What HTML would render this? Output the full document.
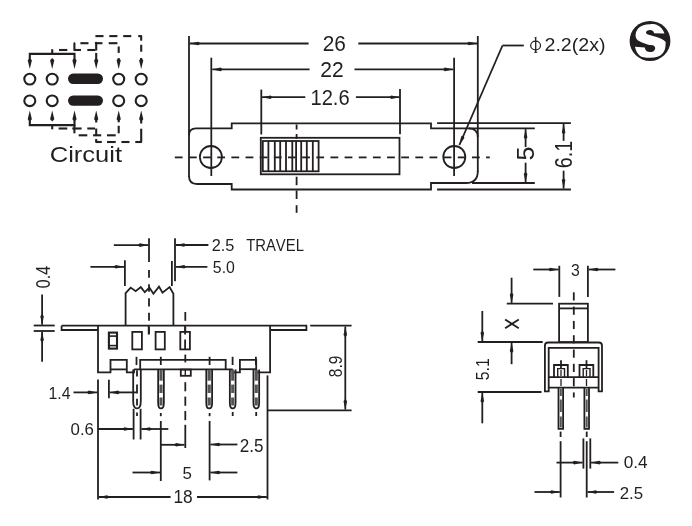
<!DOCTYPE html>
<html><head><meta charset="utf-8"><style>
html,body{margin:0;padding:0;background:#fff;}
svg{display:block;will-change:transform;}
</style></head><body>
<svg width="692" height="526" viewBox="0 0 692 526" stroke="#231f20" stroke-linecap="butt">
<rect x="0" y="0" width="692" height="526" fill="#fff" stroke="none"/>
<ellipse cx="29.8" cy="79.1" rx="5.5" ry="5.35" fill="none" stroke-width="2.1"/>
<ellipse cx="52.2" cy="79.1" rx="5.5" ry="5.35" fill="none" stroke-width="2.1"/>
<ellipse cx="118.7" cy="79.1" rx="5.5" ry="5.35" fill="none" stroke-width="2.1"/>
<ellipse cx="141.2" cy="79.1" rx="5.5" ry="5.35" fill="none" stroke-width="2.1"/>
<ellipse cx="29.8" cy="100.8" rx="5.5" ry="5.35" fill="none" stroke-width="2.1"/>
<ellipse cx="52.2" cy="100.8" rx="5.5" ry="5.35" fill="none" stroke-width="2.1"/>
<ellipse cx="118.7" cy="100.8" rx="5.5" ry="5.35" fill="none" stroke-width="2.1"/>
<ellipse cx="141.2" cy="100.8" rx="5.5" ry="5.35" fill="none" stroke-width="2.1"/>
<rect x="68" y="73.6" width="35" height="10.4" rx="5.2" fill="#231f20" stroke="none"/>
<rect x="68" y="95.39999999999999" width="35" height="10.4" rx="5.2" fill="#231f20" stroke="none"/>
<path d="M29.8,62 V53.9 H74.5 V62" stroke-width="2.1" fill="none" />
<polygon points="29.80,69.00 27.70,60.20 29.80,58.00 31.90,60.20" fill="#231f20" stroke="none"/>
<polygon points="74.50,69.00 72.40,60.20 74.50,58.00 76.60,60.20" fill="#231f20" stroke="none"/>
<line x1="52.2" y1="49.2" x2="52.2" y2="53.9" stroke-width="2.1" />
<line x1="52.2" y1="59.7" x2="52.2" y2="62" stroke-width="2.1" />
<polygon points="52.20,69.00 50.10,60.20 52.20,58.00 54.30,60.20" fill="#231f20" stroke="none"/>
<line x1="59" y1="50.0" x2="67.3" y2="50.0" stroke-width="2.1" />
<line x1="74.2" y1="50.0" x2="81" y2="50.0" stroke-width="2.1" />
<line x1="87.3" y1="50.0" x2="95.4" y2="50.0" stroke-width="2.1" />
<line x1="74.4" y1="42.7" x2="74.4" y2="50.8" stroke-width="2.1" />
<line x1="96.2" y1="41.9" x2="96.2" y2="50.5" stroke-width="2.1" />
<line x1="96.2" y1="52.9" x2="96.2" y2="62" stroke-width="2.1" />
<polygon points="96.20,69.00 94.10,60.20 96.20,58.00 98.30,60.20" fill="#231f20" stroke="none"/>
<line x1="74.2" y1="43.2" x2="75" y2="43.2" stroke-width="2.1" />
<line x1="80.4" y1="43.2" x2="88.5" y2="43.2" stroke-width="2.1" />
<line x1="94.9" y1="43.2" x2="102.4" y2="43.2" stroke-width="2.1" />
<line x1="108.7" y1="43.2" x2="117.4" y2="43.2" stroke-width="2.1" />
<line x1="118.7" y1="46.5" x2="118.7" y2="52.9" stroke-width="2.1" />
<line x1="118.7" y1="58.2" x2="118.7" y2="62" stroke-width="2.1" />
<polygon points="118.70,69.00 116.60,60.20 118.70,58.00 120.80,60.20" fill="#231f20" stroke="none"/>
<line x1="95.4" y1="36.1" x2="103.5" y2="36.1" stroke-width="2.1" />
<line x1="109.3" y1="36.1" x2="117.4" y2="36.1" stroke-width="2.1" />
<line x1="123.2" y1="36.1" x2="131.3" y2="36.1" stroke-width="2.1" />
<line x1="138.2" y1="36.1" x2="141.9" y2="36.1" stroke-width="2.1" />
<line x1="141.2" y1="36.1" x2="141.2" y2="40.7" stroke-width="2.1" />
<line x1="141.2" y1="44.8" x2="141.2" y2="51.7" stroke-width="2.1" />
<line x1="141.2" y1="58" x2="141.2" y2="62" stroke-width="2.1" />
<polygon points="141.20,69.00 139.10,60.20 141.20,58.00 143.30,60.20" fill="#231f20" stroke="none"/>
<path d="M29.8,118 V125.1 H74.5 V118" stroke-width="2.1" fill="none" />
<polygon points="29.80,110.50 31.90,119.30 29.80,121.50 27.70,119.30" fill="#231f20" stroke="none"/>
<polygon points="74.50,110.50 76.60,119.30 74.50,121.50 72.40,119.30" fill="#231f20" stroke="none"/>
<line x1="52.2" y1="125.1" x2="52.2" y2="129.3" stroke-width="2.1" />
<line x1="52.2" y1="117" x2="52.2" y2="119.3" stroke-width="2.1" />
<polygon points="52.20,110.50 54.30,119.30 52.20,121.50 50.10,119.30" fill="#231f20" stroke="none"/>
<line x1="58.6" y1="128.5" x2="67.3" y2="128.5" stroke-width="2.1" />
<line x1="72.3" y1="128.5" x2="81.6" y2="128.5" stroke-width="2.1" />
<line x1="87.3" y1="128.5" x2="95" y2="128.5" stroke-width="2.1" />
<line x1="74.4" y1="125.2" x2="74.4" y2="133.3" stroke-width="2.1" />
<line x1="96.2" y1="128.5" x2="96.2" y2="135.3" stroke-width="2.1" />
<line x1="96.2" y1="118" x2="96.2" y2="122.5" stroke-width="2.1" />
<polygon points="96.20,110.50 98.30,119.30 96.20,121.50 94.10,119.30" fill="#231f20" stroke="none"/>
<line x1="78.7" y1="135.3" x2="87.3" y2="135.3" stroke-width="2.1" />
<line x1="93.1" y1="135.3" x2="101.2" y2="135.3" stroke-width="2.1" />
<line x1="107" y1="135.3" x2="115.7" y2="135.3" stroke-width="2.1" />
<line x1="118.7" y1="125.8" x2="118.7" y2="133.3" stroke-width="2.1" />
<line x1="118.7" y1="118" x2="118.7" y2="122.3" stroke-width="2.1" />
<polygon points="118.70,110.50 120.80,119.30 118.70,121.50 116.60,119.30" fill="#231f20" stroke="none"/>
<line x1="95.4" y1="142.0" x2="101.8" y2="142.0" stroke-width="2.1" />
<line x1="107" y1="142.0" x2="115.7" y2="142.0" stroke-width="2.1" />
<line x1="121.4" y1="142.0" x2="129.5" y2="142.0" stroke-width="2.1" />
<line x1="135.3" y1="142.0" x2="141.9" y2="142.0" stroke-width="2.1" />
<line x1="96.2" y1="139" x2="96.2" y2="142" stroke-width="2.1" />
<line x1="141.2" y1="128.7" x2="141.2" y2="142" stroke-width="2.1" />
<line x1="141.2" y1="118" x2="141.2" y2="123.5" stroke-width="2.1" />
<polygon points="141.20,110.50 143.30,119.30 141.20,121.50 139.10,119.30" fill="#231f20" stroke="none"/>
<text style="font-kerning:none" font-family="Liberation Sans" font-size="20" fill="#231f20" stroke="none" transform="matrix(1.2773,0,0,1.1166,49.703,161.982)" >Circuit</text>
<line x1="308.6" y1="43.5" x2="189.9" y2="43.5" stroke-width="1.8" />
<polygon points="189.90,43.50 198.30,41.70 200.40,43.50 198.30,45.30" fill="#231f20" stroke="none"/>
<line x1="358.3" y1="43.5" x2="477.2" y2="43.5" stroke-width="1.8" />
<polygon points="477.20,43.50 468.80,45.30 466.70,43.50 468.80,41.70" fill="#231f20" stroke="none"/>
<text style="font-kerning:none" font-family="Liberation Sans" font-size="20" fill="#231f20" stroke="none" transform="matrix(1.0412,0,0,1.1017,322.753,51.385)" >26</text>
<line x1="309.6" y1="69.4" x2="212.3" y2="69.4" stroke-width="1.8" />
<polygon points="212.30,69.40 220.70,67.60 222.80,69.40 220.70,71.20" fill="#231f20" stroke="none"/>
<line x1="354.5" y1="69.4" x2="453.3" y2="69.4" stroke-width="1.8" />
<polygon points="453.30,69.40 444.90,71.20 442.80,69.40 444.90,67.60" fill="#231f20" stroke="none"/>
<text style="font-kerning:none" font-family="Liberation Sans" font-size="20" fill="#231f20" stroke="none" transform="matrix(1.0527,0,0,1.0884,320.241,77.400)" >22</text>
<line x1="305.3" y1="97.2" x2="262.1" y2="97.2" stroke-width="1.8" />
<polygon points="262.10,97.20 270.50,95.40 272.60,97.20 270.50,99.00" fill="#231f20" stroke="none"/>
<line x1="355.9" y1="97.2" x2="399.7" y2="97.2" stroke-width="1.8" />
<polygon points="399.70,97.20 391.30,99.00 389.20,97.20 391.30,95.40" fill="#231f20" stroke="none"/>
<text style="font-kerning:none" font-family="Liberation Sans" font-size="20" fill="#231f20" stroke="none" transform="matrix(1.0076,0,0,1.1229,310.465,105.081)" >12.6</text>
<line x1="189" y1="36" x2="189" y2="177" stroke-width="1.8" />
<line x1="211.3" y1="57.7" x2="211.3" y2="176" stroke-width="1.8" />
<line x1="261.3" y1="89.6" x2="261.3" y2="134.5" stroke-width="1.8" />
<line x1="400.0" y1="89.1" x2="400.0" y2="134.3" stroke-width="1.8" />
<line x1="454.1" y1="57.7" x2="454.1" y2="176" stroke-width="1.8" />
<line x1="477.8" y1="36" x2="477.8" y2="172" stroke-width="1.8" />
<path d="M189,135.4 Q189,128.4 196,128.4 H231.7 V123.3 H431 V128.3 H534.8" stroke-width="1.8" fill="none" />
<path d="M468.6,128.3 Q477.8,128.3 477.8,137" stroke-width="1.8" fill="none" />
<path d="M189,176 Q189,184 197,184 H231.7 V189.5 H431 V183 H466 Q477.8,183 477.8,171" stroke-width="1.8" fill="none" />
<line x1="472" y1="183" x2="534.8" y2="183" stroke-width="1.8" />
<line x1="437.1" y1="123.2" x2="570.9" y2="123.2" stroke-width="1.8" />
<line x1="437.1" y1="189.5" x2="570.9" y2="189.5" stroke-width="1.8" />
<circle cx="210.9" cy="157.0" r="11" fill="none" stroke-width="1.8"/>
<circle cx="454.3" cy="157.0" r="11" fill="none" stroke-width="1.8"/>
<rect x="260.8" y="137.8" width="138.7" height="36.5" fill="none" stroke-width="1.8"/>
<rect x="262.8" y="141" width="55.8" height="30.3" fill="none" stroke-width="1.8"/>
<line x1="268.4" y1="141" x2="268.4" y2="171.3" stroke-width="1.8" />
<line x1="274.8" y1="141" x2="274.8" y2="171.3" stroke-width="1.8" />
<line x1="280.2" y1="141" x2="280.2" y2="171.3" stroke-width="1.8" />
<line x1="286.0" y1="141" x2="286.0" y2="171.3" stroke-width="1.8" />
<line x1="292.3" y1="141" x2="292.3" y2="171.3" stroke-width="1.8" />
<line x1="296.1" y1="141" x2="296.1" y2="171.3" stroke-width="1.8" />
<line x1="301.2" y1="141" x2="301.2" y2="171.3" stroke-width="1.8" />
<line x1="306.8" y1="141" x2="306.8" y2="171.3" stroke-width="1.8" />
<line x1="312.8" y1="141" x2="312.8" y2="171.3" stroke-width="1.8" />
<line x1="174.8" y1="157.4" x2="182.60000000000002" y2="157.4" stroke-width="1.8" />
<line x1="188.95000000000002" y1="157.4" x2="196.75000000000003" y2="157.4" stroke-width="1.8" />
<line x1="203.10000000000002" y1="157.4" x2="210.90000000000003" y2="157.4" stroke-width="1.8" />
<line x1="217.25000000000003" y1="157.4" x2="225.05000000000004" y2="157.4" stroke-width="1.8" />
<line x1="231.40000000000003" y1="157.4" x2="239.20000000000005" y2="157.4" stroke-width="1.8" />
<line x1="245.55000000000004" y1="157.4" x2="253.35000000000005" y2="157.4" stroke-width="1.8" />
<line x1="259.70000000000005" y1="157.4" x2="267.50000000000006" y2="157.4" stroke-width="1.8" />
<line x1="273.85" y1="157.4" x2="281.65000000000003" y2="157.4" stroke-width="1.8" />
<line x1="288.0" y1="157.4" x2="295.8" y2="157.4" stroke-width="1.8" />
<line x1="302.15" y1="157.4" x2="309.95" y2="157.4" stroke-width="1.8" />
<line x1="316.29999999999995" y1="157.4" x2="324.09999999999997" y2="157.4" stroke-width="1.8" />
<line x1="330.44999999999993" y1="157.4" x2="338.24999999999994" y2="157.4" stroke-width="1.8" />
<line x1="344.5999999999999" y1="157.4" x2="352.3999999999999" y2="157.4" stroke-width="1.8" />
<line x1="358.7499999999999" y1="157.4" x2="366.5499999999999" y2="157.4" stroke-width="1.8" />
<line x1="372.89999999999986" y1="157.4" x2="380.6999999999999" y2="157.4" stroke-width="1.8" />
<line x1="387.04999999999984" y1="157.4" x2="394.84999999999985" y2="157.4" stroke-width="1.8" />
<line x1="401.1999999999998" y1="157.4" x2="408.99999999999983" y2="157.4" stroke-width="1.8" />
<line x1="415.3499999999998" y1="157.4" x2="423.1499999999998" y2="157.4" stroke-width="1.8" />
<line x1="429.4999999999998" y1="157.4" x2="437.2999999999998" y2="157.4" stroke-width="1.8" />
<line x1="443.64999999999975" y1="157.4" x2="451.44999999999976" y2="157.4" stroke-width="1.8" />
<line x1="457.7999999999997" y1="157.4" x2="465.59999999999974" y2="157.4" stroke-width="1.8" />
<line x1="471.9499999999997" y1="157.4" x2="479.7499999999997" y2="157.4" stroke-width="1.8" />
<line x1="486.0999999999997" y1="157.4" x2="489.8" y2="157.4" stroke-width="1.8" />
<line x1="296.6" y1="124.5" x2="296.6" y2="129.5" stroke-width="1.8" />
<line x1="296.6" y1="134" x2="296.6" y2="139" stroke-width="1.8" />
<line x1="296.6" y1="176.7" x2="296.6" y2="185.2" stroke-width="1.8" />
<line x1="296.6" y1="190.4" x2="296.6" y2="199" stroke-width="1.8" />
<line x1="296.6" y1="205.2" x2="296.6" y2="212.8" stroke-width="1.8" />
<line x1="502.5" y1="45.5" x2="459.4" y2="145.0" stroke-width="1.8" />
<polygon points="459.40,145.00 461.09,136.58 463.57,135.37 464.39,138.01" fill="#231f20" stroke="none"/>
<line x1="502.5" y1="45.5" x2="523.8" y2="45.5" stroke-width="1.8" />
<ellipse cx="535.6" cy="45.5" rx="4.9" ry="4.4" fill="none" stroke-width="1.25"/>
<line x1="535.7" y1="37.4" x2="535.7" y2="52.4" stroke-width="1.3" />
<line x1="534.6" y1="38.0" x2="536.4" y2="37.3" stroke-width="1.0" />
<line x1="534.2" y1="52.3" x2="537.3" y2="52.3" stroke-width="1.0" />
<text style="font-kerning:none" font-family="Liberation Sans" font-size="20" fill="#231f20" stroke="none" transform="matrix(0.9817,0,0,0.9285,544.513,51.456)" >2.2(2x)</text>
<line x1="525.6" y1="147" x2="525.6" y2="129.1" stroke-width="1.8" />
<polygon points="525.60,129.10 527.40,137.50 525.60,139.60 523.80,137.50" fill="#231f20" stroke="none"/>
<line x1="525.6" y1="162.7" x2="525.6" y2="182.3" stroke-width="1.8" />
<polygon points="525.60,182.30 523.80,173.90 525.60,171.80 527.40,173.90" fill="#231f20" stroke="none"/>
<text style="font-kerning:none" font-family="Liberation Sans" font-size="20" fill="#231f20" stroke="none" transform="matrix(0,-1.2550,1.2039,0,534.165,160.605)" >5</text>
<line x1="563.6" y1="140.8" x2="563.6" y2="124.0" stroke-width="1.8" />
<polygon points="563.60,124.00 565.40,132.40 563.60,134.50 561.80,132.40" fill="#231f20" stroke="none"/>
<line x1="563.6" y1="170.7" x2="563.6" y2="188.5" stroke-width="1.8" />
<polygon points="563.60,188.50 561.80,180.10 563.60,178.00 565.40,180.10" fill="#231f20" stroke="none"/>
<text style="font-kerning:none" font-family="Liberation Sans" font-size="20" fill="#231f20" stroke="none" transform="matrix(0,-0.9880,1.1511,0,571.775,168.303)" >6.1</text>
<ellipse cx="650" cy="40.9" rx="20.4" ry="20" fill="#231f20" stroke="none"/>
<path d="M664.5,33.6 C663.2,29.6 660.6,26.2 656.6,24.7 C655,23.8 652,24.1 650,24.2 C645,24.3 641,25.5 638.5,28 C636.2,30.5 635.4,33.5 635.6,36 C635.9,38.5 637,40 639,41 C642,42.6 646,44 649.5,45 C653.5,44.4 655.4,46.5 655.2,48.4 C655,50.8 652.7,52.1 650,52.1 C647.2,52.1 645,50.2 644.8,47.4 L634.9,46.8 C635.8,50.6 637.4,53.8 639.8,55.7 C641.5,57.2 645,57.8 650,57.8 C656,57.8 660,56.5 662.5,53.5 C664.8,51 665.6,48 665.6,44 C665.5,43 665.8,42.5 665.9,42.3 C664,40 660,38 655.7,36.8 C653,36 651,35.3 649.5,35 C647,34.8 646,33.8 646,32.6 C646,31 647.8,30.1 650,30.1 C652.5,30.1 654,31.5 654,33.2 Z" fill="#fff" stroke="none"/>
<line x1="149.0" y1="238.3" x2="149.0" y2="262" stroke-width="1.8" />
<line x1="149.0" y1="269.9" x2="149.0" y2="277.7" stroke-width="1.8" />
<line x1="149.0" y1="284.2" x2="149.0" y2="291.8" stroke-width="1.8" />
<line x1="149.0" y1="298.3" x2="149.0" y2="306.4" stroke-width="1.8" />
<line x1="149.0" y1="312.8" x2="149.0" y2="320.8" stroke-width="1.8" />
<line x1="149.0" y1="326.9" x2="149.0" y2="334" stroke-width="1.8" />
<line x1="113.8" y1="245.1" x2="148.2" y2="245.1" stroke-width="1.8" />
<polygon points="148.20,245.10 139.80,246.90 137.70,245.10 139.80,243.30" fill="#231f20" stroke="none"/>
<line x1="208.4" y1="245.0" x2="175.7" y2="245.0" stroke-width="1.8" />
<polygon points="175.70,245.00 184.10,243.20 186.20,245.00 184.10,246.80" fill="#231f20" stroke="none"/>
<line x1="175" y1="238.3" x2="175" y2="281.2" stroke-width="1.8" />
<text style="font-kerning:none" font-family="Liberation Sans" font-size="20" fill="#231f20" stroke="none" transform="matrix(0.8167,0,0,0.8121,211.678,251.041)" >2.5</text>
<text style="font-kerning:none" font-family="Liberation Sans" font-size="20" fill="#231f20" stroke="none" transform="matrix(0.7433,0,0,0.8358,246.166,251.200)" >TRAVEL</text>
<line x1="90.4" y1="266.8" x2="124.1" y2="266.8" stroke-width="1.8" />
<polygon points="124.10,266.80 115.70,268.60 113.60,266.80 115.70,265.00" fill="#231f20" stroke="none"/>
<line x1="207.4" y1="266.8" x2="175.8" y2="266.8" stroke-width="1.8" />
<polygon points="175.80,266.80 184.20,265.00 186.30,266.80 184.20,268.60" fill="#231f20" stroke="none"/>
<line x1="124.9" y1="260.3" x2="124.9" y2="286.1" stroke-width="1.8" />
<line x1="171.9" y1="260.9" x2="171.9" y2="286.1" stroke-width="1.8" />
<text style="font-kerning:none" font-family="Liberation Sans" font-size="20" fill="#231f20" stroke="none" transform="matrix(0.7933,0,0,0.7839,212.865,272.947)" >5.0</text>
<path d="M125.6,325.7 L125.6,293.2 L130.7,287.6 L135.7,291.2 L140.8,287.1 L144.8,292.2 L149.4,287.6 L153.4,293.7 L159,286.6 L162.5,292.7 L169.6,287.1 L173.4,293.7 L173.4,325.7" stroke-width="1.8" fill="none" />
<path d="M61.6,325.7 H306.4 V330 H270 M98,330 H61.6 Z" stroke-width="1.8" fill="none" />
<path d="M61.6,325.7 V330 H98" stroke-width="1.8" fill="none" />
<path d="M98,325.7 V372.4 H110.5 V359.8 H126.8 V372.4 H134 V369.4" stroke-width="1.8" fill="none" />
<line x1="110.5" y1="369.4" x2="126.8" y2="369.4" stroke-width="1.8" />
<line x1="134" y1="369.4" x2="232.7" y2="369.4" stroke-width="1.8" />
<path d="M140.2,369.4 V359.9 H225.7 V369.4" stroke-width="1.8" fill="none" />
<path d="M232.7,369.4 V372.3 H239.9 V359.9 H256.2 V372.3 H270.1 V325.7" stroke-width="1.8" fill="none" />
<line x1="239.9" y1="369.2" x2="256.2" y2="369.2" stroke-width="1.8" />
<rect x="108.9" y="332.6" width="8.1" height="16" fill="none" stroke-width="2.1"/>
<line x1="108.9" y1="336.1" x2="117" y2="336.1" stroke-width="1.6" />
<line x1="108.9" y1="345.6" x2="117" y2="345.6" stroke-width="1.6" />
<rect x="132.3" y="331.9" width="9.6" height="17.5" fill="none" stroke-width="1.8"/>
<rect x="155.6" y="331.9" width="9.2" height="17.5" fill="none" stroke-width="1.8"/>
<rect x="180.3" y="331.9" width="9.6" height="17.5" fill="none" stroke-width="1.8"/>
<line x1="185.1" y1="325.7" x2="185.1" y2="334.5" stroke-width="1.8" />
<line x1="185.1" y1="339.6" x2="185.1" y2="349.4" stroke-width="1.8" />
<line x1="148.7" y1="325.7" x2="148.7" y2="334.6" stroke-width="1.8" />
<line x1="136.5" y1="356.8" x2="136.5" y2="365" stroke-width="1.8" />
<line x1="160.8" y1="356.8" x2="160.8" y2="365" stroke-width="1.8" />
<line x1="209.6" y1="356.8" x2="209.6" y2="365" stroke-width="1.8" />
<line x1="232.6" y1="356.8" x2="232.6" y2="365" stroke-width="1.8" />
<line x1="255.9" y1="356.8" x2="255.9" y2="365" stroke-width="1.8" />
<line x1="185.3" y1="312" x2="185.3" y2="320.8" stroke-width="1.8" />
<line x1="185.3" y1="326.9" x2="185.3" y2="332" stroke-width="1.8" />
<line x1="185.3" y1="354.6" x2="185.3" y2="362.4" stroke-width="1.8" />
<line x1="185.3" y1="382.2" x2="185.3" y2="391.3" stroke-width="1.8" />
<line x1="185.3" y1="396.6" x2="185.3" y2="405.8" stroke-width="1.8" />
<line x1="185.3" y1="411" x2="185.3" y2="420.2" stroke-width="1.8" />
<line x1="185.3" y1="424.8" x2="185.3" y2="448" stroke-width="1.8" />
<rect x="180.8" y="369.6" width="10" height="6.2" fill="none" stroke-width="1.8"/>
<line x1="137.0" y1="370.2" x2="137.0" y2="376.4" stroke-width="1.8" />
<line x1="137.0" y1="384.5" x2="137.0" y2="393.5" stroke-width="1.8" />
<line x1="137.0" y1="398.7" x2="137.0" y2="405.5" stroke-width="1.8" />
<path d="M133.20,369.4 V401.18 C133.20,406.12 135.10,408.40 137.00,408.40 C138.90,408.40 140.80,406.12 140.80,401.18 V369.4" stroke-width="1.8" fill="none" />
<line x1="161.0" y1="369.8" x2="161.0" y2="380.7" stroke="#555" stroke-width="3.10"/>
<line x1="161.0" y1="384.6" x2="161.0" y2="393" stroke="#555" stroke-width="3.10"/>
<line x1="161.0" y1="397.5" x2="161.0" y2="405.5" stroke="#555" stroke-width="3.10"/>
<path d="M158.15,369.4 V402.98 C158.15,406.69 159.57,408.40 161.00,408.40 C162.43,408.40 163.85,406.69 163.85,402.98 V369.4" stroke-width="1.8" fill="none" />
<line x1="209.2" y1="369.8" x2="209.2" y2="380.7" stroke="#555" stroke-width="3.20"/>
<line x1="209.2" y1="384.6" x2="209.2" y2="393" stroke="#555" stroke-width="3.20"/>
<line x1="209.2" y1="397.5" x2="209.2" y2="405.5" stroke="#555" stroke-width="3.20"/>
<path d="M206.30,369.4 V402.89 C206.30,406.66 207.75,408.40 209.20,408.40 C210.65,408.40 212.10,406.66 212.10,402.89 V369.4" stroke-width="1.8" fill="none" />
<line x1="232.7" y1="369.8" x2="232.7" y2="380.7" stroke="#555" stroke-width="3.10"/>
<line x1="232.7" y1="384.6" x2="232.7" y2="393" stroke="#555" stroke-width="3.10"/>
<line x1="232.7" y1="397.5" x2="232.7" y2="405.5" stroke="#555" stroke-width="3.10"/>
<path d="M229.85,369.4 V402.98 C229.85,406.69 231.27,408.40 232.70,408.40 C234.12,408.40 235.55,406.69 235.55,402.98 V369.4" stroke-width="1.8" fill="none" />
<line x1="256.3" y1="369.8" x2="256.3" y2="380.7" stroke="#555" stroke-width="3.10"/>
<line x1="256.3" y1="384.6" x2="256.3" y2="393" stroke="#555" stroke-width="3.10"/>
<line x1="256.3" y1="397.5" x2="256.3" y2="405.5" stroke="#555" stroke-width="3.10"/>
<path d="M253.45,369.4 V402.98 C253.45,406.69 254.88,408.40 256.30,408.40 C257.73,408.40 259.15,406.69 259.15,402.98 V369.4" stroke-width="1.8" fill="none" />
<line x1="185.3" y1="369.6" x2="185.3" y2="375.8" stroke-width="1.4" />
<line x1="232.7" y1="412" x2="232.7" y2="416" stroke-width="1.8" />
<line x1="256.2" y1="412" x2="256.2" y2="416" stroke-width="1.8" />
<line x1="98" y1="379.5" x2="98" y2="499.5" stroke-width="1.8" />
<line x1="108.9" y1="379.7" x2="108.9" y2="398.2" stroke-width="1.8" />
<line x1="73.5" y1="392.4" x2="97.2" y2="392.4" stroke-width="1.8" />
<polygon points="97.20,392.40 88.80,394.20 86.70,392.40 88.80,390.60" fill="#231f20" stroke="none"/>
<line x1="136.5" y1="392.4" x2="109.7" y2="392.4" stroke-width="1.8" />
<polygon points="109.70,392.40 118.10,390.60 120.20,392.40 118.10,394.20" fill="#231f20" stroke="none"/>
<text style="font-kerning:none" font-family="Liberation Sans" font-size="20" fill="#231f20" stroke="none" transform="matrix(0.7901,0,0,0.7922,48.496,398.900)" >1.4</text>
<line x1="133.6" y1="408.8" x2="133.6" y2="439.5" stroke-width="1.8" />
<line x1="140.6" y1="408.8" x2="140.6" y2="439.5" stroke-width="1.8" />
<line x1="137.0" y1="412.6" x2="137.0" y2="416" stroke-width="1.8" />
<line x1="98" y1="429" x2="132.8" y2="429" stroke-width="1.8" />
<polygon points="132.80,429.00 124.40,430.80 122.30,429.00 124.40,427.20" fill="#231f20" stroke="none"/>
<line x1="168.3" y1="429" x2="141.4" y2="429" stroke-width="1.8" />
<polygon points="141.40,429.00 149.80,427.20 151.90,429.00 149.80,430.80" fill="#231f20" stroke="none"/>
<text style="font-kerning:none" font-family="Liberation Sans" font-size="20" fill="#231f20" stroke="none" transform="matrix(0.8415,0,0,0.7839,70.543,434.547)" >0.6</text>
<line x1="160.8" y1="413" x2="160.8" y2="416.2" stroke-width="1.8" />
<line x1="160.8" y1="421" x2="160.8" y2="481" stroke-width="1.8" />
<line x1="209.6" y1="413" x2="209.6" y2="416.2" stroke-width="1.8" />
<line x1="209.6" y1="421" x2="209.6" y2="480.4" stroke-width="1.8" />
<line x1="160.8" y1="444.8" x2="184.5" y2="444.8" stroke-width="1.8" />
<polygon points="184.50,444.80 176.10,446.60 174.00,444.80 176.10,443.00" fill="#231f20" stroke="none"/>
<line x1="237.4" y1="444.5" x2="210.4" y2="444.5" stroke-width="1.8" />
<polygon points="210.40,444.50 218.80,442.70 220.90,444.50 218.80,446.30" fill="#231f20" stroke="none"/>
<text style="font-kerning:none" font-family="Liberation Sans" font-size="20" fill="#231f20" stroke="none" transform="matrix(0.8553,0,0,0.9039,239.740,451.623)" >2.5</text>
<line x1="132.5" y1="472.5" x2="160.0" y2="472.5" stroke-width="1.8" />
<polygon points="160.00,472.50 151.60,474.30 149.50,472.50 151.60,470.70" fill="#231f20" stroke="none"/>
<line x1="237.4" y1="472.5" x2="210.4" y2="472.5" stroke-width="1.8" />
<polygon points="210.40,472.50 218.80,470.70 220.90,472.50 218.80,474.30" fill="#231f20" stroke="none"/>
<text style="font-kerning:none" font-family="Liberation Sans" font-size="20" fill="#231f20" stroke="none" transform="matrix(0.8437,0,0,0.8456,182.624,478.635)" >5</text>
<line x1="267.5" y1="375.4" x2="267.5" y2="499.5" stroke-width="1.8" />
<line x1="170.6" y1="497" x2="98.8" y2="497" stroke-width="1.8" />
<polygon points="98.80,497.00 107.20,495.20 109.30,497.00 107.20,498.80" fill="#231f20" stroke="none"/>
<line x1="197" y1="497" x2="266.8" y2="497" stroke-width="1.8" />
<polygon points="266.80,497.00 258.40,498.80 256.30,497.00 258.40,495.20" fill="#231f20" stroke="none"/>
<text style="font-kerning:none" font-family="Liberation Sans" font-size="20" fill="#231f20" stroke="none" transform="matrix(0.8663,0,0,0.8969,173.480,503.125)" >18</text>
<line x1="310.2" y1="325.7" x2="351.6" y2="325.7" stroke-width="1.8" />
<line x1="267.3" y1="410.4" x2="351.6" y2="410.4" stroke-width="1.8" />
<line x1="345.3" y1="368" x2="345.3" y2="326.5" stroke-width="1.8" />
<polygon points="345.30,326.50 347.10,334.90 345.30,337.00 343.50,334.90" fill="#231f20" stroke="none"/>
<line x1="345.3" y1="368" x2="345.3" y2="409.6" stroke-width="1.8" />
<polygon points="345.30,409.60 343.50,401.20 345.30,399.10 347.10,401.20" fill="#231f20" stroke="none"/>
<text style="font-kerning:none" font-family="Liberation Sans" font-size="20" fill="#231f20" stroke="none" transform="matrix(0,-0.7735,0.9463,0,341.815,377.172)" >8.9</text>
<line x1="33.7" y1="325.5" x2="54.7" y2="325.5" stroke-width="1.8" />
<line x1="33.7" y1="331" x2="54.7" y2="331" stroke-width="1.8" />
<line x1="42.1" y1="294.5" x2="42.1" y2="324.7" stroke-width="1.8" />
<polygon points="42.10,324.70 40.30,316.30 42.10,314.20 43.90,316.30" fill="#231f20" stroke="none"/>
<line x1="42.1" y1="361.8" x2="42.1" y2="331.8" stroke-width="1.8" />
<polygon points="42.10,331.80 43.90,340.20 42.10,342.30 40.30,340.20" fill="#231f20" stroke="none"/>
<text style="font-kerning:none" font-family="Liberation Sans" font-size="20" fill="#231f20" stroke="none" transform="matrix(0,-0.8020,0.9675,0,49.511,288.227)" >0.4</text>
<line x1="559.3" y1="265.8" x2="559.3" y2="296.9" stroke-width="1.8" />
<line x1="587.9" y1="265.8" x2="587.9" y2="296.9" stroke-width="1.8" />
<line x1="533.3" y1="269.5" x2="558.5" y2="269.5" stroke-width="1.8" />
<polygon points="558.50,269.50 550.10,271.30 548.00,269.50 550.10,267.70" fill="#231f20" stroke="none"/>
<line x1="615.4" y1="269.5" x2="588.7" y2="269.5" stroke-width="1.8" />
<polygon points="588.70,269.50 597.10,267.70 599.20,269.50 597.10,271.30" fill="#231f20" stroke="none"/>
<text style="font-kerning:none" font-family="Liberation Sans" font-size="20" fill="#231f20" stroke="none" transform="matrix(0.7909,0,0,0.8686,571.098,275.830)" >3</text>
<line x1="573.8" y1="292.3" x2="573.8" y2="300.5" stroke-width="1.8" />
<line x1="573.8" y1="306.6" x2="573.8" y2="314.8" stroke-width="1.8" />
<line x1="573.8" y1="320.90000000000003" x2="573.8" y2="329.1" stroke-width="1.8" />
<line x1="573.8" y1="335.20000000000005" x2="573.8" y2="343.40000000000003" stroke-width="1.8" />
<line x1="573.8" y1="349.5" x2="573.8" y2="357.7" stroke-width="1.8" />
<line x1="573.8" y1="363.8" x2="573.8" y2="372.0" stroke-width="1.8" />
<line x1="573.8" y1="378.1" x2="573.8" y2="386.3" stroke-width="1.8" />
<line x1="573.8" y1="392.40000000000003" x2="573.8" y2="397.5" stroke-width="1.8" />
<rect x="559.1" y="303.7" width="28.8" height="38.4" fill="none" stroke-width="1.8"/>
<line x1="559.1" y1="308.4" x2="587.9" y2="308.4" stroke-width="1.8" />
<line x1="506.8" y1="303.7" x2="553" y2="303.7" stroke-width="1.8" />
<line x1="511.6" y1="277.7" x2="511.6" y2="302.9" stroke-width="1.8" />
<polygon points="511.60,302.90 509.80,294.50 511.60,292.40 513.40,294.50" fill="#231f20" stroke="none"/>
<line x1="477.7" y1="342" x2="542.7" y2="342" stroke-width="1.8" />
<line x1="511.6" y1="364.2" x2="511.6" y2="342.8" stroke-width="1.8" />
<polygon points="511.60,342.80 513.40,351.20 511.60,353.30 509.80,351.20" fill="#231f20" stroke="none"/>
<line x1="505.1" y1="319.6" x2="518.8" y2="328.2" stroke-width="1.8" />
<line x1="505.1" y1="328.2" x2="518.8" y2="319.6" stroke-width="1.8" />
<line x1="482.3" y1="311" x2="482.3" y2="341.2" stroke-width="1.8" />
<polygon points="482.30,341.20 480.50,332.80 482.30,330.70 484.10,332.80" fill="#231f20" stroke="none"/>
<line x1="477.7" y1="392" x2="541.5" y2="392" stroke-width="1.8" />
<line x1="482.3" y1="423.3" x2="482.3" y2="392.8" stroke-width="1.8" />
<polygon points="482.30,392.80 484.10,401.20 482.30,403.30 480.50,401.20" fill="#231f20" stroke="none"/>
<text style="font-kerning:none" font-family="Liberation Sans" font-size="20" fill="#231f20" stroke="none" transform="matrix(0,-0.7877,0.9459,0,489.015,380.231)" >5.1</text>
<path d="M544.9,391.4 V345.7 Q544.9,342.5 548.1,342.5 H598.8 Q602,342.5 602,345.7 V391.4 H598.6 V347.8 H548.7 V391.4 Z" stroke-width="1.8" fill="none" />
<line x1="548.7" y1="377.2" x2="598.6" y2="377.2" stroke-width="1.8" />
<line x1="548.7" y1="387.6" x2="598.6" y2="387.6" stroke-width="1.8" />
<path d="M554.0,377.2 V365 H567.8 V377.2" stroke-width="1.8" fill="none" />
<path d="M557.7,377.2 V368.6 H564.5 V377.2" stroke-width="1.4" fill="none" />
<line x1="561.0" y1="360.2" x2="561.0" y2="368.6" stroke-width="1.8" />
<line x1="561.0" y1="370" x2="561.0" y2="376" stroke-width="1.3" />
<line x1="561.0" y1="379" x2="561.0" y2="386" stroke-width="1.3" />
<path d="M579.5,377.2 V365 H593.3 V377.2" stroke-width="1.8" fill="none" />
<path d="M583.2,377.2 V368.6 H590.0 V377.2" stroke-width="1.4" fill="none" />
<line x1="586.5" y1="360.2" x2="586.5" y2="368.6" stroke-width="1.8" />
<line x1="586.5" y1="370" x2="586.5" y2="376" stroke-width="1.3" />
<line x1="586.5" y1="379" x2="586.5" y2="386" stroke-width="1.3" />
<path d="M558.5,387.6 V428.8 H563.0999999999999 V387.6" stroke-width="1.8" fill="none" />
<line x1="560.8" y1="388.8" x2="560.8" y2="396" stroke="#555" stroke-width="2.0"/>
<line x1="560.8" y1="399.5" x2="560.8" y2="412" stroke="#555" stroke-width="2.0"/>
<line x1="560.8" y1="416.5" x2="560.8" y2="427.5" stroke="#555" stroke-width="2.0"/>
<path d="M584.4000000000001,387.6 V428.8 H589.0 V387.6" stroke-width="1.8" fill="none" />
<line x1="586.7" y1="388.8" x2="586.7" y2="396" stroke="#555" stroke-width="2.0"/>
<line x1="586.7" y1="399.5" x2="586.7" y2="412" stroke="#555" stroke-width="2.0"/>
<line x1="586.7" y1="416.5" x2="586.7" y2="427.5" stroke="#555" stroke-width="2.0"/>
<line x1="560.6" y1="431.6" x2="560.6" y2="437" stroke-width="1.8" />
<line x1="586.7" y1="431.6" x2="586.7" y2="437" stroke-width="1.8" />
<line x1="560.6" y1="441.2" x2="560.6" y2="497.5" stroke-width="1.8" />
<line x1="586.7" y1="441.2" x2="586.7" y2="497.5" stroke-width="1.8" />
<line x1="583.4" y1="438.4" x2="583.4" y2="468.6" stroke-width="1.8" />
<line x1="590.3" y1="438.4" x2="590.3" y2="468.6" stroke-width="1.8" />
<line x1="556.5" y1="462.6" x2="582.6" y2="462.6" stroke-width="1.8" />
<polygon points="582.60,462.60 574.20,464.40 572.10,462.60 574.20,460.80" fill="#231f20" stroke="none"/>
<line x1="618.3" y1="462.6" x2="591.1" y2="462.6" stroke-width="1.8" />
<polygon points="591.10,462.60 599.50,460.80 601.60,462.60 599.50,464.40" fill="#231f20" stroke="none"/>
<text style="font-kerning:none" font-family="Liberation Sans" font-size="20" fill="#231f20" stroke="none" transform="matrix(0.8625,0,0,0.8686,623.626,468.430)" >0.4</text>
<line x1="534.5" y1="492" x2="559.8" y2="492" stroke-width="1.8" />
<polygon points="559.80,492.00 551.40,493.80 549.30,492.00 551.40,490.20" fill="#231f20" stroke="none"/>
<line x1="614.1" y1="492" x2="587.5" y2="492" stroke-width="1.8" />
<polygon points="587.50,492.00 595.90,490.20 598.00,492.00 595.90,493.80" fill="#231f20" stroke="none"/>
<text style="font-kerning:none" font-family="Liberation Sans" font-size="20" fill="#231f20" stroke="none" transform="matrix(0.8437,0,0,0.8686,619.651,498.630)" >2.5</text>
</svg>
</body></html>
